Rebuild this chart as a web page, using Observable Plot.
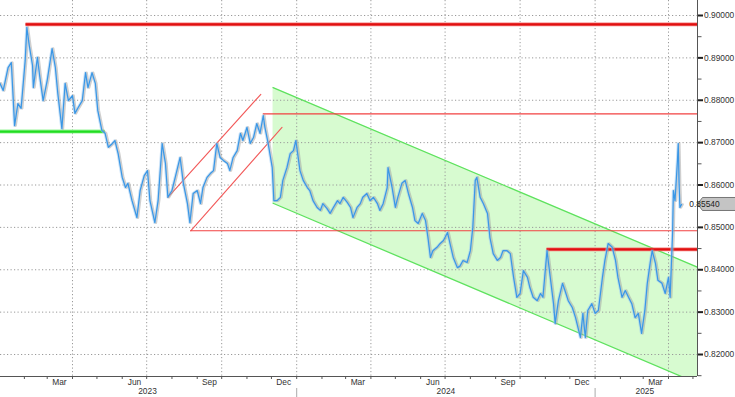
<!DOCTYPE html>
<html><head><meta charset="utf-8">
<script src="https://cdn.jsdelivr.net/npm/d3@7"></script>
<script src="https://cdn.jsdelivr.net/npm/@observablehq/plot@0.6"></script>
<style>
html,body{margin:0;padding:0;background:#fff;}
#chart{width:735px;height:397px;}
</style></head><body><div id="chart"></div>
<script>
// ---- price series (daily line) ----
const priceDates = [
"2023-01-02","2023-01-06","2023-01-12","2023-01-16","2023-01-20","2023-01-24","2023-01-28","2023-02-02","2023-02-04","2023-02-07",
"2023-02-11","2023-02-12","2023-02-17","2023-02-20","2023-02-24","2023-03-01","2023-03-07","2023-03-11","2023-03-14","2023-03-19",
"2023-03-23","2023-03-27","2023-04-01","2023-04-04","2023-04-08","2023-04-13","2023-04-17","2023-04-20","2023-04-25","2023-04-29",
"2023-05-02","2023-05-07","2023-05-11","2023-05-15","2023-05-20","2023-05-23","2023-05-27","2023-06-01","2023-06-05","2023-06-08",
"2023-06-13","2023-06-19","2023-06-23","2023-06-28","2023-07-02","2023-07-05","2023-07-11","2023-07-15","2023-07-20","2023-07-24",
"2023-07-27","2023-08-01","2023-08-05","2023-08-11","2023-08-15","2023-08-20","2023-08-23","2023-08-27","2023-09-01","2023-09-05",
"2023-09-08","2023-09-13","2023-09-17","2023-09-21","2023-09-25","2023-09-29","2023-10-03","2023-10-08","2023-10-11","2023-10-15",
"2023-10-20","2023-10-24","2023-10-27","2023-11-01","2023-11-05","2023-11-09","2023-11-13","2023-11-17","2023-11-21","2023-11-23",
"2023-11-27","2023-12-02","2023-12-04","2023-12-08","2023-12-12","2023-12-15","2023-12-20","2023-12-24","2023-12-28","2023-12-31",
"2024-01-05","2024-01-09","2024-01-14","2024-01-17","2024-01-21","2024-01-26","2024-01-30","2024-02-02","2024-02-07","2024-02-11",
"2024-02-15","2024-02-20","2024-02-23","2024-02-27","2024-03-03","2024-03-07","2024-03-10","2024-03-15","2024-03-19","2024-03-22",
"2024-03-27","2024-03-31","2024-04-04","2024-04-09","2024-04-12","2024-04-16","2024-04-21","2024-04-22","2024-04-27","2024-05-01",
"2024-05-04","2024-05-09","2024-05-13","2024-05-17","2024-05-22","2024-05-25","2024-05-29","2024-06-03","2024-06-07","2024-06-10",
"2024-06-13","2024-06-16","2024-06-21","2024-06-25","2024-06-29","2024-07-04","2024-07-07","2024-07-11","2024-07-16","2024-07-19",
"2024-07-23","2024-07-28","2024-08-01","2024-08-04","2024-08-07","2024-08-09","2024-08-13","2024-08-17","2024-08-22","2024-08-25",
"2024-08-29","2024-09-03","2024-09-07","2024-09-10","2024-09-15","2024-09-19","2024-09-23","2024-09-27","2024-10-01","2024-10-05",
"2024-10-10","2024-10-13","2024-10-17","2024-10-22","2024-10-26","2024-10-29","2024-11-03","2024-11-07","2024-11-11","2024-11-13",
"2024-11-17","2024-11-22","2024-11-25","2024-11-29","2024-12-04","2024-12-08","2024-12-14","2024-12-17","2024-12-20","2024-12-23",
"2024-12-28","2025-01-01","2025-01-05","2025-01-10","2025-01-13","2025-01-17","2025-01-22","2025-01-26","2025-01-29","2025-02-03",
"2025-02-07","2025-02-11","2025-02-15","2025-02-19","2025-02-23","2025-02-27","2025-03-03","2025-03-06","2025-03-10","2025-03-12",
"2025-03-16","2025-03-19","2025-03-24","2025-03-28","2025-04-01","2025-04-03","2025-04-06","2025-04-07","2025-04-09","2025-04-12",
"2025-04-13","2025-04-14","2025-04-15","2025-04-17"
];
const priceValues = [
0.8840,0.8823,0.8877,0.8889,0.8740,0.8792,0.8781,0.8894,0.8972,0.8929,
0.8882,0.8830,0.8901,0.8854,0.8799,0.8847,0.8922,0.8877,0.8816,0.8733,
0.8840,0.8799,0.8811,0.8769,0.8783,0.8799,0.8865,0.8830,0.8865,0.8840,
0.8776,0.8729,0.8722,0.8689,0.8698,0.8705,0.8674,0.8618,0.8594,0.8604,
0.8563,0.8523,0.8587,0.8622,0.8634,0.8563,0.8511,0.8563,0.8698,0.8651,
0.8571,0.8587,0.8618,0.8665,0.8604,0.8556,0.8511,0.8580,0.8587,0.8556,
0.8594,0.8618,0.8627,0.8634,0.8698,0.8665,0.8658,0.8651,0.8634,0.8665,
0.8681,0.8722,0.8705,0.8736,0.8698,0.8712,0.8745,0.8722,0.8764,0.8736,
0.8698,0.8641,0.8563,0.8563,0.8571,0.8611,0.8641,0.8674,0.8681,0.8705,
0.8634,0.8611,0.8594,0.8587,0.8563,0.8547,0.8540,0.8556,0.8545,0.8533,
0.8547,0.8563,0.8556,0.8571,0.8559,0.8547,0.8523,0.8547,0.8556,0.8571,
0.8580,0.8563,0.8571,0.8556,0.8540,0.8556,0.8594,0.8641,0.8594,0.8547,
0.8571,0.8604,0.8611,0.8580,0.8547,0.8516,0.8509,0.8533,0.8516,0.8476,
0.8429,0.8445,0.8453,0.8462,0.8469,0.8488,0.8462,0.8429,0.8405,0.8408,
0.8422,0.8417,0.8445,0.8500,0.8611,0.8618,0.8571,0.8556,0.8533,0.8476,
0.8438,0.8422,0.8429,0.8445,0.8445,0.8438,0.8382,0.8335,0.8344,0.8398,
0.8382,0.8358,0.8335,0.8327,0.8344,0.8335,0.8445,0.8382,0.8320,0.8273,
0.8327,0.8368,0.8351,0.8327,0.8311,0.8287,0.8240,0.8297,0.8240,0.8304,
0.8320,0.8297,0.8304,0.8382,0.8422,0.8462,0.8453,0.8422,0.8382,0.8335,
0.8351,0.8335,0.8320,0.8287,0.8297,0.8250,0.8304,0.8368,0.8422,0.8445,
0.8415,0.8375,0.8368,0.8344,0.8382,0.8335,0.8486,0.8587,0.8563,0.8658,
0.8698,0.8604,0.8547,0.8554
];
const lastPrice = 0.85540;

// ---- axis / tick labels ----
const yTicks = [0.82,0.83,0.84,0.85,0.86,0.87,0.88,0.89,0.90];
const yMinorTicks = [0.815,0.825,0.835,0.845,0.855,0.865,0.875,0.885,0.895];
const gridDates = ["2023-04-01","2023-07-01","2023-10-01","2024-01-01","2024-04-01","2024-07-01","2024-10-01","2025-01-01","2025-04-01"];
const monthTickDates = ["2023-02-01","2023-03-01","2023-04-01","2023-05-01","2023-06-01","2023-07-01","2023-08-01","2023-09-01","2023-10-01","2023-11-01","2023-12-01",
 "2024-01-01","2024-02-01","2024-03-01","2024-04-01","2024-05-01","2024-06-01","2024-07-01","2024-08-01","2024-09-01","2024-10-01","2024-11-01","2024-12-01",
 "2025-01-01","2025-02-01","2025-03-01","2025-04-01","2025-05-01"];
const monthLabelDates = ["2023-03-16","2023-06-16","2023-09-16","2023-12-16","2024-03-16","2024-06-16","2024-09-16","2024-12-16","2025-03-16"];
const monthLabels = ["Mar","Jun","Sep","Dec","Mar","Jun","Sep","Dec","Mar"];
const yearLabelDates = ["2023-07-02","2024-07-02","2025-03-03"];
const yearLabels = ["2023","2024","2025"];
const yearStartDates = ["2024-01-01","2025-01-01"];

// ---- drawn levels / trend channels (values) ----
const xStart = "2023-01-02T17:00:00Z", xEnd = "2025-05-06T14:00:00Z";
const redLevelStart = ["2023-02-03","2024-11-03"];   // thick red horizontals
const redLevelValue = [0.8979, 0.8448];
const greenLevelStart = [xStart], greenLevelEnd = ["2023-05-11"], greenLevelValue = [0.8726];
const thinRedStart = ["2023-08-24","2023-11-21"];   // thin red horizontals
const thinRedValue = [0.8492, 0.8768];
const upChanDates = [["2023-07-27","2023-11-18"],["2023-08-24","2023-12-14"]];
const upChanValues = [[0.8571,0.8814],[0.8492,0.8736]];
const downChanDates = ["2023-12-03", xEnd];
const downChanUpper = [0.8830, 0.8406];
const downChanLower = [0.8557, 0.8132];

const P = s => new Date(s.length === 10 ? s + "T00:00:00Z" : s);
const price = priceDates.map((d,i)=>({date:P(d), value:priceValues[i]}));
const channel = downChanDates.map((d,i)=>({date:P(d), upper:downChanUpper[i], lower:downChanLower[i]}));
const END = P(xEnd);
const yDomain = [0.81481, 0.90354];

const segs = [];
redLevelStart.forEach((d,i)=>segs.push({x1:P(d), x2:END, y:redLevelValue[i], k:"thickRed"}));
greenLevelStart.forEach((d,i)=>segs.push({x1:P(d), x2:P(greenLevelEnd[i]), y:greenLevelValue[i], k:"green"}));
thinRedStart.forEach((d,i)=>segs.push({x1:P(d), x2:END, y:thinRedValue[i], k:"thinRed"}));
const upChan = [];
upChanDates.forEach((pair,j)=>pair.forEach((d,i)=>upChan.push({date:P(d), value:upChanValues[j][i], line:j})));

const chart = Plot.plot({
  width: 735, height: 397,
  marginTop: 0, marginRight: 38, marginBottom: 21, marginLeft: 0,
  style: {fontFamily: "'Liberation Sans', Arial, sans-serif", fontSize: "8.4px", color: "#333", background: "#fff", overflow: "visible"},
  x: {type: "utc", domain: [P(xStart), END], axis: null},
  y: {domain: yDomain, axis: null},
  marks: [
    Plot.areaY(channel, {x: "date", y1: "lower", y2: "upper", fill: "#d7fbd0", clip: true}),
    Plot.ruleY(yTicks, {stroke: "#999", strokeDasharray: "1.2,2.3", strokeWidth: 1}),
    Plot.ruleX(gridDates.map(P), {stroke: "#999", strokeDasharray: "1.2,2.3", strokeWidth: 1}),
    Plot.line(channel, {x: "date", y: "upper", stroke: "#5ee25e", strokeWidth: 1.3, clip: true}),
    Plot.line(channel, {x: "date", y: "lower", stroke: "#5ee25e", strokeWidth: 1.3, clip: true}),
    Plot.line(upChan, {x: "date", y: "value", z: "line", stroke: "#f25a5a", strokeWidth: 1.1}),
    Plot.ruleY(segs.filter(s=>s.k==="thinRed"), {x1: "x1", x2: "x2", y: "y", stroke: "#f24040", strokeWidth: 1.2}),
    Plot.ruleY(segs.filter(s=>s.k==="green"), {x1: "x1", x2: "x2", y: "y", stroke: "#9af59a", strokeWidth: 4}),
    Plot.ruleY(segs.filter(s=>s.k==="green"), {x1: "x1", x2: "x2", y: "y", stroke: "#22dd22", strokeWidth: 2.2}),
    Plot.ruleY(segs.filter(s=>s.k==="thickRed"), {x1: "x1", x2: "x2", y: "y", stroke: "#f57a7a", strokeWidth: 3.6}),
    Plot.ruleY(segs.filter(s=>s.k==="thickRed"), {x1: "x1", x2: "x2", y: "y", stroke: "#e01010", strokeWidth: 2.2}),
    // price
    Plot.line(price, {x: "date", y: "value", stroke: "#a0a0a0", strokeWidth: 2.6, strokeOpacity: 0.5, dx: 1}),
    Plot.line(price, {x: "date", y: "value", stroke: "#9ccaf3", strokeWidth: 2.2, strokeOpacity: 0.55, dx: -0.5}),
    Plot.line(price, {x: "date", y: "value", stroke: "#3a97e6", strokeWidth: 1.2}),
    // axes
    Plot.ruleY([yDomain[0]], {stroke: "#555", strokeWidth: 1}),
    Plot.ruleX([END], {stroke: "#555", strokeWidth: 1}),
    Plot.axisY({anchor: "right", ticks: yTicks, tickFormat: d => d.toFixed(5), tickSize: 5, tickPadding: 1.5, strokeWidth: 2, stroke: "#222", fill: "#333"}),
    Plot.axisY({anchor: "right", ticks: yMinorTicks, tickFormat: () => "", tickSize: 3.5, stroke: "#555"}),
    Plot.axisX({ticks: monthTickDates.map(P), tickSize: 3, tickFormat: () => "", stroke: "#555"}),
    Plot.axisX({ticks: yearStartDates.map(P), tickSize: 9, dy: 12, tickFormat: () => "", stroke: "#aaa"}),
    Plot.text(monthLabels, {x: (d,i) => P(monthLabelDates[i]), text: d => d, frameAnchor: "bottom", dy: 8, fill: "#333"}),
    Plot.text(yearLabels, {x: (d,i) => P(yearLabelDates[i]), text: d => d, frameAnchor: "bottom", dy: 17.5, fill: "#333"})
  ]
});
document.getElementById("chart").appendChild(chart);

// last-price tag on the right axis, placed through the plot's own scales
const yS = chart.scale("y"), xS = chart.scale("x");
const yy = yS.apply(lastPrice), xx = xS.apply(END);
const svg = d3.select(chart);
svg.append("path")
  .attr("d", `M${xx + 0.5},${yy} L${xx + 5.5},${yy - 6.5} H${xx + 40} V${yy + 6.5} H${xx + 5.5} Z`)
  .attr("fill", "#c4c4c4").attr("stroke", "#5a5a5a").attr("stroke-width", 0.8);
svg.append("text")
  .attr("x", xx + 7.5).attr("y", yy).attr("dy", "0.34em")
  .attr("font-family", "'Liberation Sans', Arial, sans-serif").attr("font-size", "8.4px").attr("fill", "#222")
  .text(lastPrice.toFixed(5));
</script></body></html>
